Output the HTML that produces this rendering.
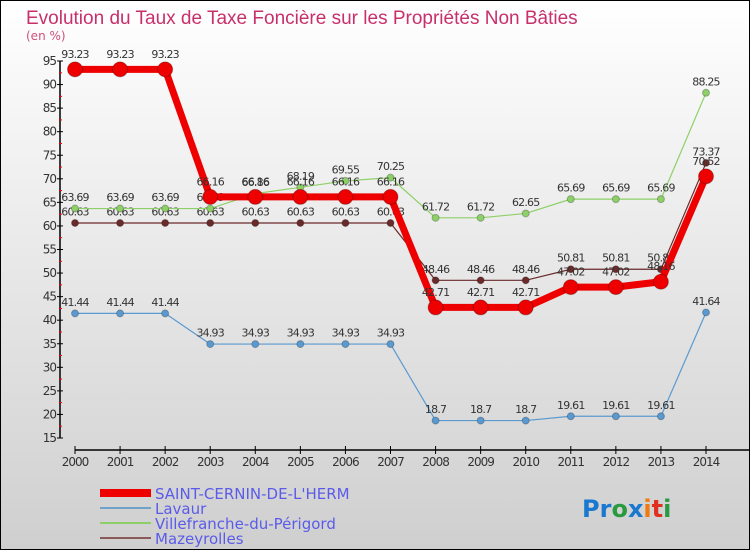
<!DOCTYPE html>
<html><head><meta charset="utf-8"><style>
body{margin:0}
#c{width:750px;height:550px;position:relative;overflow:hidden;font-family:"DejaVu Sans","Liberation Sans",sans-serif}
</style></head><body>
<div id="c">
<svg id="s" width="750" height="550" xmlns="http://www.w3.org/2000/svg">
<defs><linearGradient id="bg" x1="0" y1="0" x2="0" y2="1"><stop offset="0" stop-color="#ffffff"/><stop offset="1" stop-color="#cfcfcf"/></linearGradient></defs>
<rect x="0.5" y="0.5" width="749" height="549" fill="url(#bg)" stroke="#000"/>
<text x="26" y="24" font-size="19" fill="#c8306a" font-family="Liberation Sans, sans-serif">Evolution du Taux de Taxe Foncière sur les Propriétés Non Bâties</text>
<text x="26" y="40" font-size="12" fill="#d0507a">(en %)</text>
<g id="axes"></g><g id="series"></g>
<g font-size="15" fill="#5b5bea">
<line x1="100" y1="493" x2="151" y2="493" stroke="#ee0000" stroke-width="8"/>
<text x="155" y="499">SAINT-CERNIN-DE-L'HERM</text>
<line x1="100" y1="508" x2="151" y2="508" stroke="#6fa3c8" stroke-width="2"/>
<text x="155" y="514">Lavaur</text>
<line x1="100" y1="523" x2="151" y2="523" stroke="#8ed068" stroke-width="2"/>
<text x="155" y="529">Villefranche-du-Périgord</text>
<line x1="100" y1="538" x2="151" y2="538" stroke="#8a5a5a" stroke-width="2"/>
<text x="155" y="544">Mazeyrolles</text>
</g>
<text x="582" y="517" font-size="24" font-weight="bold" font-family="DejaVu Sans, sans-serif"><tspan fill="#1a78d0">Pr</tspan><tspan fill="#2a9a40">o</tspan><tspan fill="#1a78d0">x</tspan><tspan fill="#f07a10">i</tspan><tspan fill="#e03020">t</tspan><tspan fill="#2a9a40">i</tspan></text>
</svg>
<script>
const years=[2000,2001,2002,2003,2004,2005,2006,2007,2008,2009,2010,2011,2012,2013,2014];
const yTicks=[15,20,25,30,35,40,45,50,55,60,65,70,75,80,85,90,95];
const saint=[93.23,93.23,93.23,66.16,66.16,66.16,66.16,66.16,42.71,42.71,42.71,47.02,47.02,48.16,70.52];
const lavaur=[41.44,41.44,41.44,34.93,34.93,34.93,34.93,34.93,18.7,18.7,18.7,19.61,19.61,19.61,41.64];
const ville=[63.69,63.69,63.69,63.69,66.86,68.19,69.55,70.25,61.72,61.72,62.65,65.69,65.69,65.69,88.25];
const maz=[60.63,60.63,60.63,60.63,60.63,60.63,60.63,60.63,48.46,48.46,48.46,50.81,50.81,50.81,73.37];
const NS="http://www.w3.org/2000/svg";
const xs=i=>75+i*(706-75)/(years.length-1);
const ys=v=>438-(v-15)*(438-61)/80;
function mk(p,tag,at){const e=document.createElementNS(NS,tag);for(const k in at)e.setAttribute(k,at[k]);p.appendChild(e);return e;}
const ax=document.getElementById('axes');
let e=mk(ax,'line',{x1:60,y1:61,x2:60,y2:438,stroke:'#000','stroke-width':1.5});


yTicks.forEach(t=>{const y=ys(t);
 mk(ax,'line',{x1:57,y1:y,x2:63,y2:y,stroke:'#000'});
 if(t<95)mk(ax,'line',{x1:59,y1:ys(t+2.5),x2:62,y2:ys(t+2.5),stroke:'#e00'});
 const tx=mk(ax,'text',{x:56,y:y+4,'text-anchor':'end','font-size':12,fill:'#333','letter-spacing':'-1'});tx.textContent=t;
 
 });
e=mk(ax,'line',{x1:75,y1:450,x2:750,y2:450,stroke:'#000','stroke-width':1.5});


years.forEach((yr,i)=>{const x=xs(i);
 mk(ax,'line',{x1:x,y1:446,x2:x,y2:454,stroke:'#000'});
 const tx=mk(ax,'text',{x:x,y:466,'text-anchor':'middle','font-size':12,fill:'#333','letter-spacing':'-1'});tx.textContent=yr;
 
 });
const sg=document.getElementById('series');
function draw(vals,col,w,r,name){
 const g=mk(sg,'g',{});
 
 
 mk(g,'polyline',{points:vals.map((v,i)=>xs(i)+','+ys(v)).join(' '),fill:'none',stroke:col,'stroke-width':w,'stroke-linejoin':'round'});
 vals.forEach((v,i)=>{const c=mk(g,'circle',{cx:xs(i),cy:ys(v),r:r,fill:col,stroke:'rgba(0,0,0,0.25)'});
  
  
  const t=mk(g,'text',{x:xs(i),y:ys(v)-r-4,'text-anchor':'middle','font-size':11,fill:'#333','letter-spacing':'-0.8'});t.textContent=v;
  
  });
}
draw(lavaur,'#5a9ad0',1.2,3.5,'lavaur');
draw(maz,'#6a2a2a',1.2,3.5,'mazeyrolles');
draw(ville,'#8ed068',1.2,3.5,'villefranche');
draw(saint,'#ee0000',7,7.5,'saint-cernin');
</script>
</div></body></html>
